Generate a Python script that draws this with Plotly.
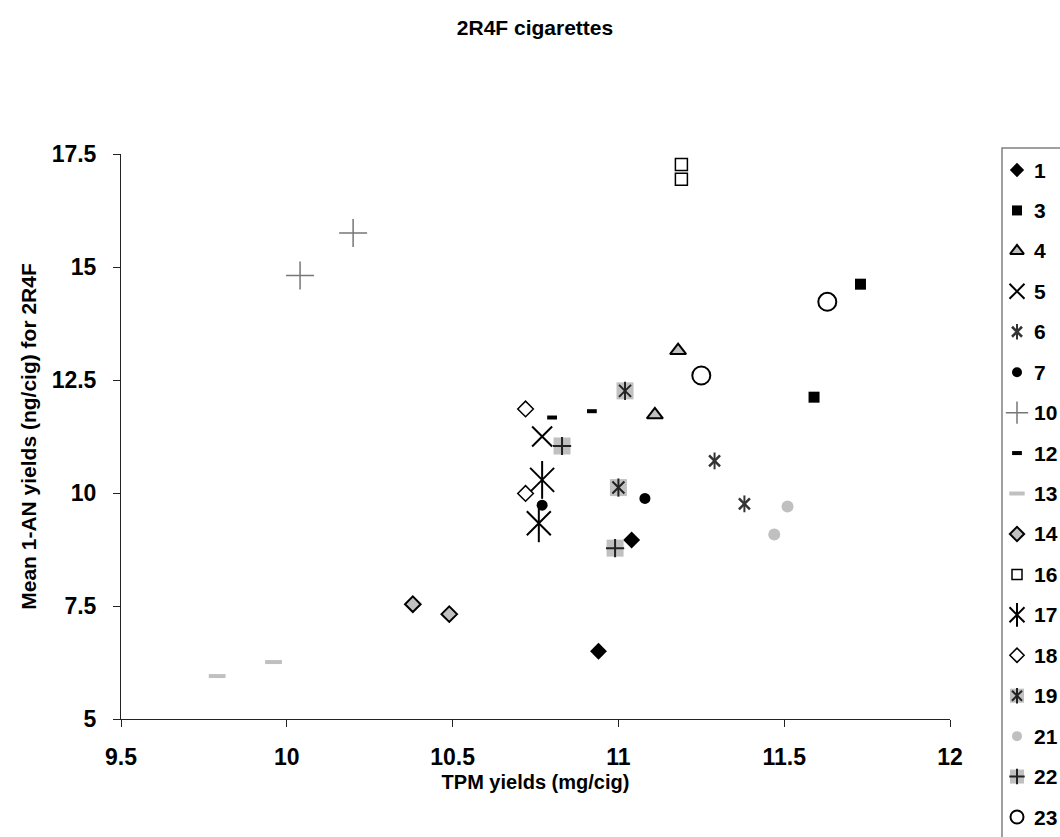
import plotly.graph_objects as go

# ---------------- data ----------------
series_names = ["1", "3", "4", "5", "6", "7", "10", "12", "13", "14",
                "16", "17", "18", "19", "21", "22", "23"]

tpm_1 = [11.04, 10.94]
an_1 = [8.96, 6.50]
tpm_3 = [11.73, 11.59]
an_3 = [14.62, 12.12]
tpm_4 = [11.18, 11.11]
an_4 = [13.15, 11.73]
tpm_5 = [10.77]
an_5 = [11.25]
tpm_6 = [11.29, 11.38]
an_6 = [10.71, 9.76]
tpm_7 = [11.08, 10.77]
an_7 = [9.88, 9.73]
tpm_10 = [10.20, 10.04]
an_10 = [15.75, 14.81]
tpm_12 = [10.80, 10.92]
an_12 = [11.67, 11.81]
tpm_13 = [9.79, 9.96]
an_13 = [5.95, 6.26]
tpm_14 = [10.38, 10.49]
an_14 = [7.54, 7.32]
tpm_16 = [11.19, 11.19]
an_16 = [17.27, 16.94]
tpm_17 = [10.77, 10.76]
an_17 = [10.29, 9.33]
tpm_18 = [10.72, 10.72]
an_18 = [11.86, 9.99]
tpm_19 = [11.02, 11.00]
an_19 = [12.26, 10.12]
tpm_21 = [11.51, 11.47]
an_21 = [9.70, 9.08]
tpm_22 = [10.83, 10.99]
an_22 = [11.04, 8.78]
tpm_23 = [11.63, 11.25]
an_23 = [14.23, 12.60]

x_ticks = [9.5, 10, 10.5, 11, 11.5, 12]
x_tick_labels = ["9.5", "10", "10.5", "11", "11.5", "12"]
y_ticks = [5, 7.5, 10, 12.5, 15, 17.5]
y_tick_labels = ["5", "7.5", "10", "12.5", "15", "17.5"]

title_text = "2R4F cigarettes"
x_title = "TPM yields (mg/cig)"
y_title = "Mean 1-AN yields (ng/cig) for 2R4F"

series_x = [tpm_1, tpm_3, tpm_4, tpm_5, tpm_6, tpm_7, tpm_10, tpm_12, tpm_13,
            tpm_14, tpm_16, tpm_17, tpm_18, tpm_19, tpm_21, tpm_22, tpm_23]
series_y = [an_1, an_3, an_4, an_5, an_6, an_7, an_10, an_12, an_13,
            an_14, an_16, an_17, an_18, an_19, an_21, an_22, an_23]

# ---------------- styles ----------------
GRAY = "#c0c0c0"
# each style: list of layers (symbol, plot size, legend size, fill, line colour, line width)
styles = {
    "1": [("diamond", 13, 11, "black", "black", 0)],
    "3": [("square", 11, 10, "black", "black", 0)],
    "4": [("triangle-up", 14, 12, GRAY, "black", 2)],
    "5": [("x-thin-open", 20, 15, "black", "black", 2)],
    "6": [("x-thin-open", 11, 10, "#333333", "#333333", 2.5),
          ("line-ns-open", 12, 11, "#333333", "#333333", 2)],
    "7": [("circle", 11, 10, "black", "black", 0)],
    "10": [("cross-thin-open", 20, 16, "#777777", "#777777", 1.5)],
    "12": [("line-ew-open", 7, 7, "black", "black", 4)],
    "13": [("line-ew-open", 12, 11, GRAY, GRAY, 4)],
    "14": [("diamond", 12, 11, GRAY, "black", 2)],
    "16": [("square", 12, 10, "white", "black", 1.5)],
    "17": [("x-thin-open", 24, 15, "black", "black", 2),
           ("line-ns-open", 27, 17, "black", "black", 2)],
    "18": [("diamond", 12, 11, "white", "black", 1.5)],
    "19": [("square", 17, 14, GRAY, GRAY, 0),
           ("x-thin-open", 12, 10, "#222222", "#222222", 2),
           ("line-ns-open", 13, 11, "#222222", "#222222", 2)],
    "21": [("circle", 12, 10, GRAY, GRAY, 0)],
    "22": [("square", 17, 14, GRAY, GRAY, 0),
           ("cross-thin-open", 13, 11, "#222222", "#222222", 2)],
    "23": [("circle", 18, 13, "white", "black", 2)],
}

FONT = "Liberation Sans, Arial, sans-serif"
W, H = 1060, 837
OFF = 0  # page body margin removed by post_script
plot_l, plot_r, plot_t, plot_b = 121 - OFF, 950 - OFF, 154 - OFF, 719 - OFF
leg_l, leg_t = 1002 - OFF, 148 - OFF
leg_first, leg_last = 170 - OFF, 817 - OFF

fig = go.Figure()

def add_layers(name, xs, ys, legend, xa, ya):
    for sym, size_p, size_l, fill, lc, lw in styles[name]:
        fig.add_trace(go.Scatter(
            x=xs, y=ys, mode="markers", showlegend=False,
            name=name, xaxis=xa, yaxis=ya,
            marker=dict(symbol=sym, size=size_l if legend else size_p,
                        color=fill, line=dict(color=lc, width=lw)),
        ))

for name, xs, ys in zip(series_names, series_x, series_y):
    add_layers(name, xs, ys, False, "x", "y")

# custom legend drawn on its own axes
n = len(series_names)
step = (leg_last - leg_first) / (n - 1)
for i, name in enumerate(series_names):
    add_layers(name, [15], [i], True, "x2", "y2")
    fig.add_annotation(x=30, y=i, xref="x2", yref="y2", text="<b>" + name + "</b>",
                       showarrow=False, xanchor="left", yanchor="middle",
                       font=dict(family=FONT, size=21, color="black"))

fig.add_shape(type="rect", xref="paper", yref="paper",
              x0=leg_l / W, x1=1.05, y0=-0.05, y1=1 - leg_t / H,
              line=dict(color="#808080", width=1.5), fillcolor="rgba(0,0,0,0)", layer="below")

axis_common = dict(showgrid=False, zeroline=False, showline=True, linecolor="#222222",
                   linewidth=1, ticks="outside", ticklen=7, tickcolor="#222222",
                   tickfont=dict(family=FONT, size=23, color="black"), automargin=False)

fig.update_layout(
    width=W, height=H,
    margin=dict(l=0, r=0, t=0, b=0),
    paper_bgcolor="white", plot_bgcolor="white",
    showlegend=False,
    title=dict(text="<b>" + title_text + "</b>", x=(535 - OFF) / W, xanchor="center",
               y=1 - (28 - OFF) / H, yanchor="middle",
               font=dict(family=FONT, size=21, color="black")),
    xaxis=dict(domain=[plot_l / W, plot_r / W], range=[9.5, 12],
               tickvals=x_ticks, ticktext=["<b>" + t + "</b>" for t in x_tick_labels],
               ticklabelstandoff=10,
               title=dict(text="<b>" + x_title + "</b>", standoff=6,
                          font=dict(family=FONT, size=20, color="black")),
               **axis_common),
    yaxis=dict(domain=[1 - plot_b / H, 1 - plot_t / H], range=[5, 17.5],
               tickvals=y_ticks, ticktext=["<b>" + t + "</b>" for t in y_tick_labels],
               ticklabelstandoff=12,
               title=dict(text="<b>" + y_title + "</b>", standoff=9,
                          font=dict(family=FONT, size=21, color="black")),
               **axis_common),
    xaxis2=dict(domain=[leg_l / W, 1.0], range=[0, W - leg_l], visible=False,
                fixedrange=True),
    yaxis2=dict(domain=[0, 1 - leg_t / H],
                range=[(n - 1) + (H - leg_last) / step, -(leg_first - leg_t) / step],
                visible=False, fixedrange=True),
)

fig.write_html("out.html", config={"displayModeBar": False},
               post_script="document.body.style.margin='0';document.body.style.overflow='hidden';")
